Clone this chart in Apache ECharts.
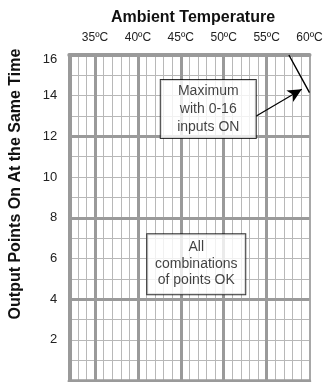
<!DOCTYPE html>
<html>
<head>
<meta charset="UTF-8">
<title>Output points vs ambient temperature</title>
<script src="https://cdn.jsdelivr.net/npm/echarts@6.0.0/dist/echarts.min.js"></script>
<style>
  html, body { margin: 0; padding: 0; background: #fff; }
  #chart { width: 329px; height: 382px; }
</style>
</head>
<body>
<div id="chart"></div>
<script>
// axis ranges and labels
const tempMin = 32, tempMax = 60;
const countMin = 0, countMax = 16;
const tempLabels = [35, 40, 45, 50, 55, 60];
const countLabels = [2, 4, 6, 8, 10, 12, 14, 16];
// heavier grid lines
const majorTemps = [35, 40, 45, 50, 55];
const majorCounts = [4, 8, 12];
// derating curve (temp, points on)
const limitCurve = [[57.6, 16], [58.9, 15], [60, 14.15]];
// arrow from note to curve
const arrowFrom = [53.8, 13.0];
const arrowTo = [59.1, 14.32];
// note boxes, centred on data coords
const noteMax = { pos: [48.2, 13.35], text: 'Maximum\nwith 0-16\ninputs ON' };
const noteOk = { pos: [46.8, 5.72], text: 'All\ncombinations\nof points OK' };

const font = 'Liberation Sans, Arial, sans-serif';
const thick = '#9a9a9a';
const thin = '#b8b8b8';

const chart = echarts.init(document.getElementById('chart'));

chart.setOption({
    animation: false,
    grid: { left: 69.3, right: 19.5, top: 55, bottom: 1.5, containLabel: false },
    graphic: [
        {
            type: 'text', x: 193, y: 18,
            style: { text: 'Ambient Temperature', font: 'bold 16px ' + font, fill: '#111', align: 'center', verticalAlign: 'middle' }
        },
        {
            type: 'text', x: 16, y: 184, rotation: Math.PI / 2,
            style: { text: 'Output Points On At the Same Time', font: 'bold 16px ' + font, fill: '#111', align: 'center', verticalAlign: 'middle' }
        }
    ],
    xAxis: [
        {
            type: 'value', position: 'top', min: tempMin, max: tempMax, interval: 1,
            axisLine: { show: true, onZero: false, lineStyle: { color: thick, width: 4 } },
            axisTick: { show: false },
            axisLabel: {
                interval: 0, margin: 11, color: '#222', fontSize: 12, fontFamily: font,
                formatter: v => tempLabels.includes(v) ? v + 'ºC' : ''
            },
            splitLine: { show: true, lineStyle: { color: thin, width: 1 } }
        },
        {
            type: 'value', position: 'bottom', min: tempMin, max: tempMax,
            axisLine: { show: true, onZero: false, lineStyle: { color: thick, width: 3.5 } },
            axisTick: { show: false }, axisLabel: { show: false }, splitLine: { show: false }
        }
    ],
    yAxis: [
        {
            type: 'value', position: 'left', min: countMin, max: countMax, interval: 1,
            axisLine: { show: true, onZero: false, lineStyle: { color: thick, width: 4 } },
            axisTick: { show: false },
            axisLabel: {
                margin: 12, color: '#222', fontSize: 13, fontFamily: font,
                formatter: v => {
                    if (!countLabels.includes(v)) return '';
                    return v === countMax ? '{top|' + v + '}' : String(v);
                },
                rich: { top: { fontSize: 13, fontFamily: font, color: '#222', padding: [8, 0, 0, 0] } }
            },
            splitLine: { show: true, lineStyle: { color: thin, width: 1 } }
        },
        {
            type: 'value', position: 'right', min: countMin, max: countMax,
            axisLine: { show: true, onZero: false, lineStyle: { color: '#a8a8a8', width: 2 } },
            axisTick: { show: false }, axisLabel: { show: false }, splitLine: { show: false }
        }
    ],
    series: [
        {
            // heavy grid lines every 5 degrees / 4 points
            type: 'line', data: [], silent: true, z: 1,
            markLine: {
                silent: true, symbol: 'none', animation: false,
                label: { show: false },
                lineStyle: { color: thick, width: 3, type: 'solid' },
                emphasis: { disabled: true },
                data: majorTemps.map(t => ({ xAxis: t })).concat(majorCounts.map(c => ({ yAxis: c })))
            }
        },
        {
            type: 'line', data: limitCurve, smooth: true, showSymbol: false, silent: true, z: 3,
            lineStyle: { color: '#000', width: 1.4 },
            markLine: {
                silent: true, animation: false,
                symbol: ['none', 'arrow'], symbolSize: [10, 14],
                label: { show: false },
                lineStyle: { color: '#000', width: 1.2, type: 'solid' },
                emphasis: { disabled: true },
                data: [[{ coord: arrowFrom }, { coord: arrowTo }]]
            }
        },
        {
            type: 'scatter', symbolSize: 0, silent: true, z: 5,
            data: [noteMax, noteOk].map((n, i) => ({
                value: n.pos,
                label: {
                    show: true, position: 'inside', formatter: n.text,
                    fontSize: 14, fontFamily: font, color: '#111',
                    backgroundColor: '#fff', borderColor: '#000', borderWidth: 1,
                    width: i === 0 ? 95 : 98,
                    height: i === 0 ? 52 : 50,
                    lineHeight: i === 0 ? 18 : 16.5,
                    padding: i === 0 ? [3, 0, 3, 0] : [5, 0, 5, 0],
                    align: 'center', verticalAlign: 'middle'
                }
            }))
        }
    ]
});
</script>
</body>
</html>
